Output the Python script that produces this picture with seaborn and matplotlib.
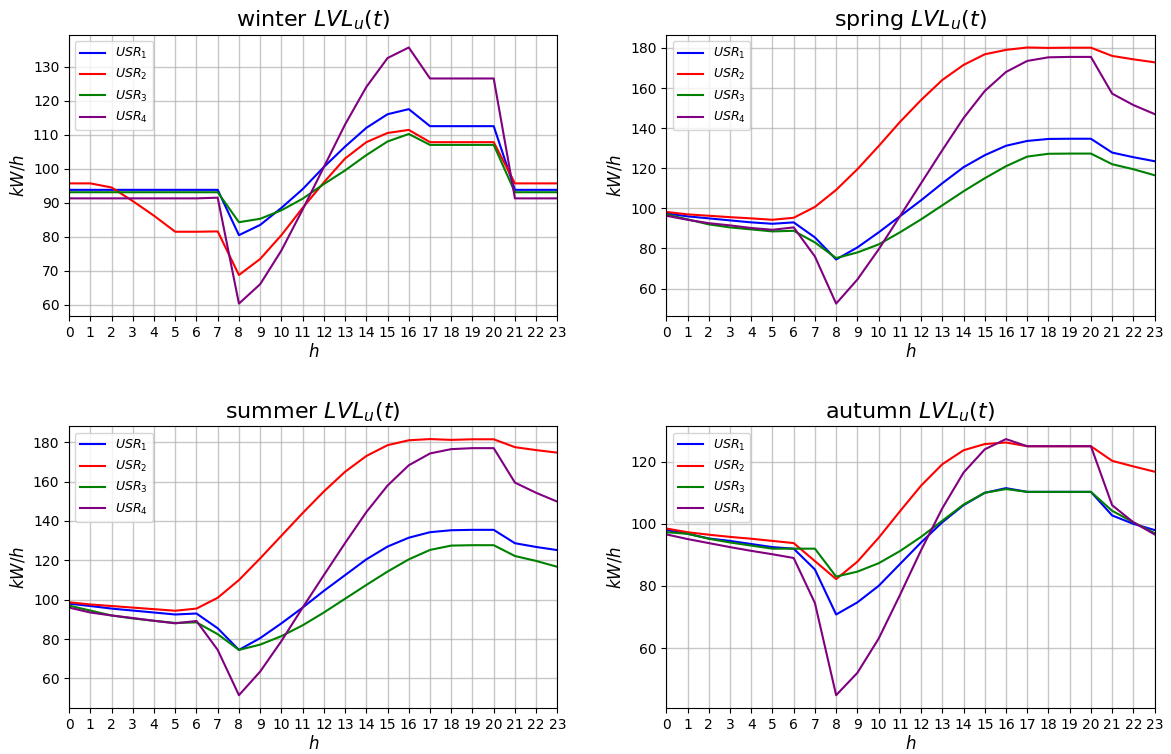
import numpy as np
import pandas as pd
import matplotlib
matplotlib.use('Agg')
import matplotlib.pyplot as plt
from matplotlib.ticker import MultipleLocator
import seaborn as sns

hours = list(range(24))
users = ['$USR_1$', '$USR_2$', '$USR_3$', '$USR_4$']
colors = ['blue', 'red', 'green', 'purple']

winter_usr1 = [93.8] * 8 + [80.5, 83.5, 88.5, 94, 100.5, 106.5, 112, 116, 117.5, 112.5, 112.5, 112.5, 112.5, 93.8, 93.8, 93.8]
winter_usr2 = [95.7, 95.7, 94.5, 90.5, 86.2, 81.5, 81.5, 81.6, 68.8, 73.5, 80.5, 88.5, 96, 103, 107.8, 110.5, 111.4,
               107.8, 107.8, 107.8, 107.8, 95.7, 95.7, 95.7]
winter_usr3 = [93.1] * 8 + [84.3, 85.3, 87.8, 91.2, 95.5, 99.5, 104, 108, 110.2, 107, 107, 107, 107, 93.1, 93.1, 93.1]
winter_usr4 = [91.3] * 7 + [91.5, 60.4, 66.1, 76, 88, 100.5, 113, 124, 132.5, 135.6, 126.5, 126.5, 126.5, 126.5,
                            91.3, 91.3, 91.3]

spring_usr1 = [97.5, 96, 95, 94, 93, 92.3, 93, 85.5, 74.5, 80.5, 88, 96, 104, 112.5, 120.5, 126.5, 131.2, 133.6,
               134.6, 134.7, 134.7, 127.8, 125.5, 123.5]
spring_usr2 = [98.2, 97, 96.3, 95.6, 95, 94.3, 95.3, 100.7, 109.2, 119.5, 131, 143, 154, 164, 171.5, 176.8, 179,
               180.2, 180, 180.1, 180.1, 176, 174.3, 172.8]
spring_usr3 = [97, 94.5, 92, 90.5, 89.5, 88.5, 88.8, 83, 75.2, 78, 82, 88, 94.5, 101.5, 108.5, 115, 121, 125.8,
               127.2, 127.3, 127.3, 122, 119.5, 116.5]
spring_usr4 = [96.3, 94.3, 92.6, 91.5, 90.2, 89.3, 90.5, 76, 52.5, 64.5, 79.5, 96, 112.5, 129, 145, 158.5, 168,
               173.5, 175.3, 175.5, 175.5, 157.2, 151.5, 147]

summer_usr1 = [98, 96.8, 95.5, 94.5, 93.5, 92.5, 93, 85.5, 74.5, 80.5, 88, 96, 104.5, 112.5, 120.5, 127, 131.5,
               134.3, 135.3, 135.5, 135.5, 128.7, 126.8, 125.2]
summer_usr2 = [98.7, 97.6, 96.8, 96, 95.2, 94.4, 95.5, 101, 110, 121, 132.5, 144, 155, 165, 173, 178.5, 181, 181.6,
               181.2, 181.5, 181.5, 177.5, 176, 174.7]
summer_usr3 = [97, 94.5, 92, 90.5, 89.3, 88.2, 88.5, 82.5, 74.5, 77.2, 81.5, 87, 93.5, 100.5, 107.5, 114.3, 120.5,
               125.3, 127.5, 127.7, 127.7, 122.2, 119.7, 116.7]
summer_usr4 = [96, 93.5, 92, 90.7, 89.3, 88, 89.2, 74.5, 51.5, 63.5, 79, 96, 112.5, 128.8, 144.5, 158, 168.3, 174.3,
               176.5, 177, 177, 159.5, 154.3, 149.8]

autumn_usr1 = [98, 96.8, 95.3, 94.5, 93.5, 92.5, 92, 85.3, 70.8, 74.7, 80, 87, 94, 100.5, 106, 110, 111.5, 110.3,
               110.3, 110.3, 110.3, 102.7, 100, 98]
autumn_usr2 = [98.5, 97.3, 96.5, 95.8, 95.2, 94.5, 93.8, 88, 82.2, 87.8, 95.5, 104, 112.3, 119.2, 123.7, 125.7,
               126.2, 125, 125, 125, 125, 120.3, 118.5, 116.8]
autumn_usr3 = [97.3, 96.8, 95.2, 94, 93, 92, 92, 92, 83, 84.6, 87.3, 91.2, 95.8, 101, 106.2, 110, 111.2, 110.3,
               110.3, 110.3, 110.3, 104.2, 100.5, 97]
autumn_usr4 = [96.6, 95.1, 93.8, 92.5, 91.3, 90.2, 89, 74.5, 44.8, 52, 63, 77, 91.5, 105, 116.5, 124, 127.3, 125,
               125, 125, 125, 106, 100.5, 96.6]

seasons = {
    'winter': [winter_usr1, winter_usr2, winter_usr3, winter_usr4],
    'spring': [spring_usr1, spring_usr2, spring_usr3, spring_usr4],
    'summer': [summer_usr1, summer_usr2, summer_usr3, summer_usr4],
    'autumn': [autumn_usr1, autumn_usr2, autumn_usr3, autumn_usr4],
}

fig, axes = plt.subplots(2, 2, figsize=(11.71, 7.54), dpi=100)

for ax, (season, series) in zip(axes.flat, seasons.items()):
    # long format for seaborn
    df = pd.DataFrame({'h': hours * 4,
                       'value': sum(series, []),
                       'user': [u for u in users for _ in hours]})
    sns.lineplot(data=df, x='h', y='value', hue='user', palette=colors, ax=ax, linewidth=1.5)
    ax.set_title(season + ' $LVL_u(t)$', fontsize=16)
    ax.set_xlabel('$h$', fontsize=12, labelpad=2)
    ax.set_ylabel('$kW/h$', fontsize=12)
    ax.set_xticks(hours)
    ax.set_xlim(0, 23)
    if season == 'winter':
        ax.yaxis.set_major_locator(MultipleLocator(10))
    ax.tick_params(labelsize=10)
    ax.grid(True, linewidth=1, color='#b0b0b0', alpha=0.7)
    ax.legend(loc='upper left', title=None, fontsize=9)

plt.subplots_adjust(left=0.059, right=0.986, top=0.954, bottom=0.061, wspace=0.223, hspace=0.39)
plt.savefig('out.png', dpi=100)
